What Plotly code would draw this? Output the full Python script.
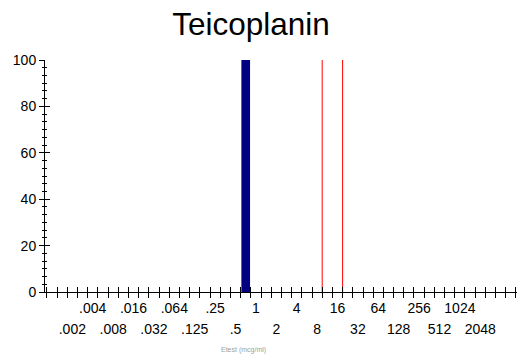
import plotly.graph_objects as go

# Etest MIC categories (mcg/ml), evenly spaced cells
mic_values = [0.001, 0.0015, 0.002, 0.003, 0.004, 0.006, 0.008, 0.012, 0.016, 0.023,
              0.032, 0.047, 0.064, 0.094, 0.125, 0.19, 0.25, 0.38, 0.5, 0.75,
              1, 1.5, 2, 3, 4, 6, 8, 12, 16, 24,
              32, 48, 64, 96, 128, 192, 256, 384, 512, 768,
              1024, 1536, 2048, 3072, 4096, 6144]
# percent of isolates per MIC cell
percent = [0] * len(mic_values)
percent[mic_values.index(0.75)] = 100

# breakpoints (red lines drawn after these MIC cells)
breakpoints = [8, 16]

# tick label rows
top_labels = [".004", ".016", ".064", ".25", "1", "4", "16", "64", "256", "1024"]
top_values = [0.004, 0.016, 0.064, 0.25, 1, 4, 16, 64, 256, 1024]
bottom_labels = [".002", ".008", ".032", ".125", ".5", "2", "8", "32", "128", "512", "2048"]
bottom_values = [0.002, 0.008, 0.032, 0.125, 0.5, 2, 8, 32, 128, 512, 2048]

title = "Teicoplanin"
x_title = "Etest (mcg/ml)"

idx = list(range(len(mic_values)))
xrange = [-0.68, 45.6]
FONT = "Liberation Sans, Arial, sans-serif"

fig = go.Figure()
fig.add_trace(go.Bar(x=idx, y=percent, marker=dict(color="#000080", line=dict(width=0)),
                     width=0.85, hoverinfo="skip", showlegend=False))
for b in breakpoints:
    xb = mic_values.index(b) + 0.5
    fig.add_trace(go.Scatter(x=[xb, xb], y=[0, 100], mode="lines",
                             line=dict(color="#ff0000", width=1),
                             hoverinfo="skip", showlegend=False))

tick_font = dict(family=FONT, size=14, color="#000000")

fig.update_layout(
    width=524, height=361,
    margin=dict(l=45, r=7, t=60, b=69),
    paper_bgcolor="white", plot_bgcolor="white",
    showlegend=False,
    title=dict(text=title, x=251 / 524, xanchor="center", xref="container",
               y=1 - 24 / 361, yanchor="middle", yref="container",
               font=dict(family=FONT, size=31.5, color="#000000")),
    xaxis=dict(range=xrange, showgrid=False, zeroline=False,
               showline=True, linecolor="black", linewidth=1,
               tickmode="array", tickvals=[mic_values.index(v) for v in top_values],
               ticktext=top_labels, ticks="", tickfont=tick_font,
               ticklabelstandoff=3,
               minor=dict(tickmode="linear", tick0=0.5, dtick=1, ticks="outside",
                          ticklen=5, tickwidth=1, tickcolor="black", showgrid=False)),
    xaxis2=dict(range=xrange, overlaying="x", anchor="y", side="bottom",
                showgrid=False, zeroline=False, showline=False,
                tickmode="array", tickvals=[mic_values.index(v) for v in bottom_values],
                ticktext=bottom_labels, ticks="", tickfont=tick_font,
                ticklabelstandoff=27,
                minor=dict(tickmode="linear", tick0=0.5, dtick=1, ticks="inside",
                           ticklen=5, tickwidth=1, tickcolor="black", showgrid=False)),
    yaxis=dict(range=[0, 100], showgrid=False, zeroline=False,
               showline=True, linecolor="black", linewidth=1,
               tickmode="linear", tick0=0, dtick=20, ticks="outside", ticklen=5,
               tickcolor="black", tickfont=tick_font,
               minor=dict(tickmode="linear", tick0=0, dtick=10 / 3, ticks="outside",
                          ticklen=2, tickcolor="black", showgrid=False)),
    yaxis2=dict(range=[0, 100], overlaying="y", anchor="x", side="left",
                showgrid=False, zeroline=False, showline=False, showticklabels=False,
                tickmode="linear", tick0=0, dtick=20, ticks="inside", ticklen=5,
                tickcolor="black",
                minor=dict(tickmode="linear", tick0=0, dtick=10 / 3, ticks="inside",
                           ticklen=2, tickcolor="black", showgrid=False)),
    annotations=[dict(text=x_title, xref="paper", yref="paper",
                      x=(243 - 45) / 472, y=(292 - 350) / 232,
                      xanchor="center", yanchor="middle", showarrow=False,
                      font=dict(family=FONT, size=7, color="#9aa39a"))],
)
# dummy trace so overlay axes render
fig.add_trace(go.Scatter(x=[None], y=[None], xaxis="x2", yaxis="y2", showlegend=False,
                         hoverinfo="skip"))

fig.write_html("out.html")
